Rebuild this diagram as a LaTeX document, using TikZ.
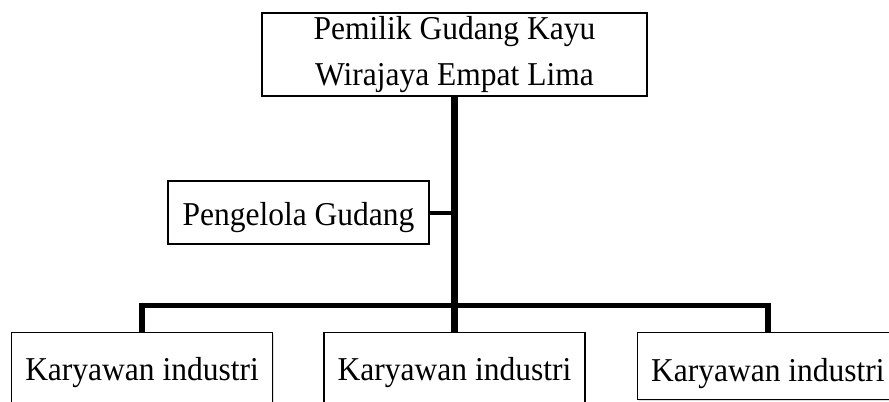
\documentclass[tikz,border=0pt]{standalone}
\usepackage{fontspec}
\setmainfont{Liberation Serif}[FakeStretch=0.945]
\usetikzlibrary{positioning,shadows}

\begin{document}
\begin{tikzpicture}[x=0.75pt,y=-0.75pt,
         unit/.style = {draw,line width=1.1pt,fill=white,inner sep=0pt,
            minimum width=195.75pt,font=\fontsize{25}{34}\selectfont,
            drop shadow={opacity=0.25,shadow xshift=1pt,shadow yshift=-1pt}},
         staff/.style = {unit,text height=36pt,text depth=22.5pt},
         link/.style = {line width=4pt}
]
   \useasboundingbox (0,0) rectangle (889,401);

   \node[unit,align=center,minimum width=288.75pt,minimum height=62.25pt]
      (owner) at (454.5,54.5) {Pemilik Gudang Kayu\\Wirajaya Empat Lima};
   \node[unit,text height=33pt,text depth=14.25pt] (manager) at (298.5,212.5)
      {Pengelola Gudang};

   \node[staff,below=176.25pt of owner] (k2) {Karyawan industri};
   \node[staff,left=37.5pt of k2] (k1) {Karyawan industri};
   \node[staff,text height=36.75pt,text depth=13.5pt,
      right=38.25pt of k2.north east,anchor=north west] (k3) {Karyawan industri};

   \coordinate[above=19.5pt of k2.north] (bus);

   \draw[link,line width=5pt] (owner.south) -- (k2.north);
   \draw[link,line width=3pt] (manager.east) -- (manager.east -| owner.south);
   \draw[link] (k1.north) |- (bus) -| (k3.north);
\end{tikzpicture}
\end{document}
